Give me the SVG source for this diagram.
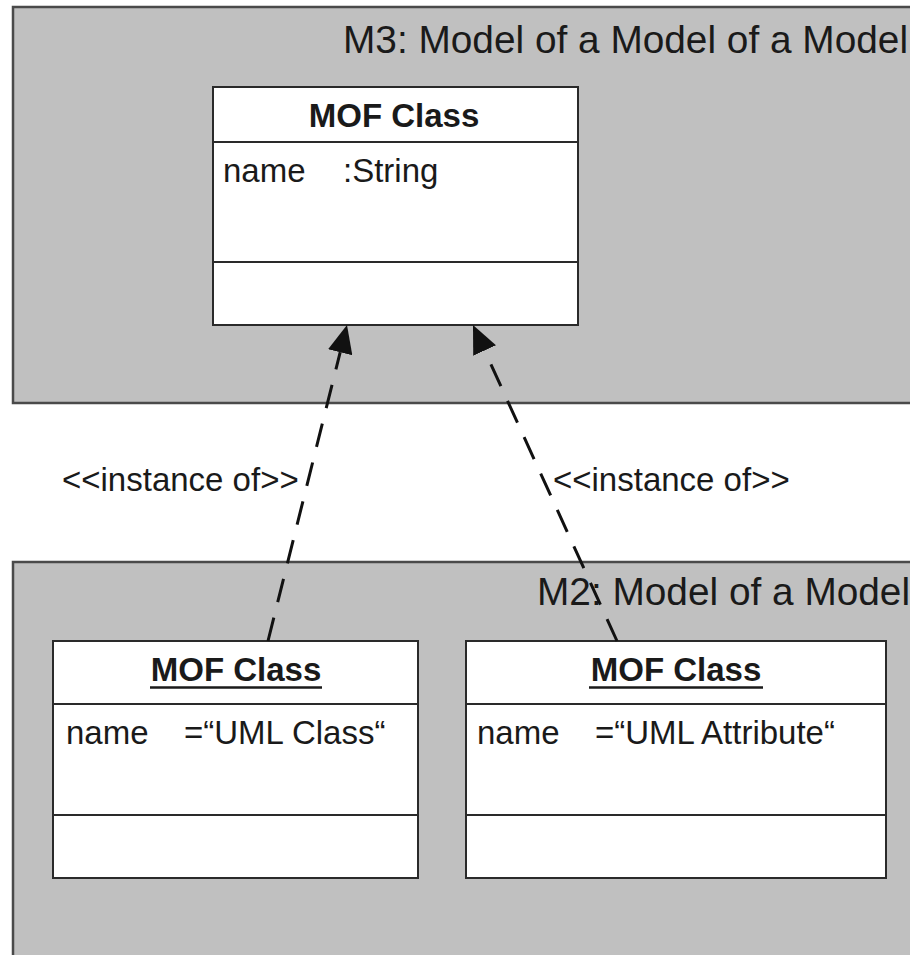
<svg xmlns="http://www.w3.org/2000/svg" width="910" height="955" viewBox="0 0 910 955">
  <style>
    .pkg { fill: #c0c0c0; stroke: #4a4a4a; stroke-width: 2.5; }
    .box { fill: #ffffff; stroke: #2a2a2a; stroke-width: 2; }
    .sep { stroke: #2a2a2a; stroke-width: 2; }
    .title { font-family: "Liberation Sans", Arial, sans-serif; font-size: 38.8px; fill: #1a1a1a; }
    .cls { font-family: "Liberation Sans", Arial, sans-serif; font-size: 33px; font-weight: bold; fill: #1a1a1a; text-anchor: middle; }
    .attr { font-family: "Liberation Sans", Arial, sans-serif; font-size: 33px; fill: #1a1a1a; }
    .lbl { font-family: "Liberation Sans", Arial, sans-serif; font-size: 33px; fill: #1a1a1a; }
    .dep { fill: none; stroke: #111; stroke-width: 3; stroke-dasharray: 24 16; }
  </style>
  <defs>
    <marker id="arrow" markerUnits="userSpaceOnUse" viewBox="0 0 28 25" markerWidth="28" markerHeight="25" refX="0" refY="12.5" orient="auto">
      <path d="M0,0 L28,12.5 L0,25 z" fill="#111"/>
    </marker>
  </defs>

  <rect width="910" height="955" fill="#ffffff"/>

  <g id="pkg-m3">
    <rect class="pkg" x="13" y="7" width="910" height="396"/>
    <text class="title" x="343" y="53">M3: Model of a Model of a Model</text>
  </g>

  <g id="pkg-m2">
    <rect class="pkg" x="13" y="562" width="910" height="410"/>
    <text class="title" x="537" y="605">M2: Model of a Model</text>
  </g>

  <g id="m3-mof-class">
    <rect class="box" x="213" y="87" width="365" height="238"/>
    <line class="sep" x1="213" y1="142" x2="578" y2="142"/>
    <line class="sep" x1="213" y1="262" x2="578" y2="262"/>
    <text class="cls" x="394" y="127">MOF Class</text>
    <text class="attr" x="223" y="182">name</text>
    <text class="attr" x="343" y="182">:String</text>
  </g>

  <g id="m2-uml-class">
    <rect class="box" x="53" y="641" width="365" height="237"/>
    <line class="sep" x1="53" y1="704" x2="418" y2="704"/>
    <line class="sep" x1="53" y1="815" x2="418" y2="815"/>
    <text class="cls" x="236" y="681">MOF Class</text>
    <line x1="150" y1="687.5" x2="322" y2="687.5" stroke="#1a1a1a" stroke-width="2.5"/>
    <text class="attr" x="66" y="744">name</text>
    <text class="attr" x="184" y="744">=“UML Class“</text>
  </g>

  <g id="m2-uml-attribute">
    <rect class="box" x="466" y="641" width="420" height="237"/>
    <line class="sep" x1="466" y1="704" x2="886" y2="704"/>
    <line class="sep" x1="466" y1="815" x2="886" y2="815"/>
    <text class="cls" x="676" y="681">MOF Class</text>
    <line x1="589" y1="687.5" x2="763" y2="687.5" stroke="#1a1a1a" stroke-width="2.5"/>
    <text class="attr" x="477" y="744">name</text>
    <text class="attr" x="595" y="744">=“UML Attribute“</text>
  </g>

  <g id="connectors">
    <path class="dep" d="M268,641 L340.2,352.2" marker-end="url(#arrow)"/>
    <path class="dep" d="M617,641 L484.6,350.5" marker-end="url(#arrow)"/>
    <text class="lbl" x="62" y="491">&lt;&lt;instance of&gt;&gt;</text>
    <text class="lbl" x="553" y="491">&lt;&lt;instance of&gt;&gt;</text>
  </g>
</svg>
